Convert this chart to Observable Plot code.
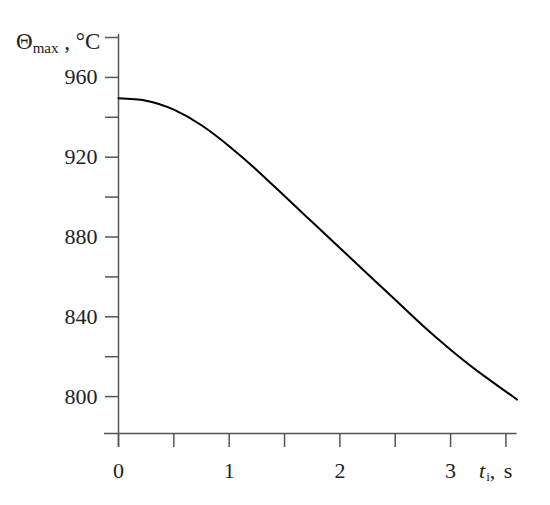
<!DOCTYPE html>
<html><head><meta charset="utf-8">
<script src="https://cdn.jsdelivr.net/npm/d3@7"></script>
<script src="https://cdn.jsdelivr.net/npm/@observablehq/plot@0.6"></script>
<style>body{margin:0;background:#fff}</style>
</head><body><div id="chart"></div>
<script>
const time = [0, 0.25, 0.5, 0.75, 1, 1.25, 1.5, 1.75, 2, 2.25, 2.5, 2.75, 3, 3.25, 3.5, 3.6];
const thetaMax = [948, 946.8, 942.3, 934.5, 924, 912, 899, 886, 873, 860, 847, 834, 822, 811, 801, 797];
const xTicks = [0, 0.5, 1, 1.5, 2, 2.5, 3, 3.5];
const xTickLabels = [0, 1, 2, 3];
const yTicks = [800, 820, 840, 860, 880, 900, 920, 940, 960, 980];
const yTickLabels = [800, 840, 880, 920, 960];

const data = time.map((t, i) => ({t, v: thetaMax[i]}));
const font = "'Liberation Serif', 'DejaVu Serif', serif";
const axisColor = "#555";

const plot = Plot.plot({
  width: 550, height: 505,
  marginLeft: 118, marginRight: 33.5, marginTop: 34, marginBottom: 72,
  x: {domain: [0, 3.6]},
  y: {domain: [780, 980]},
  style: {fontFamily: font, fontSize: "22px", color: "#222", background: "white"},
  marks: [
    Plot.ruleY([780], {stroke: axisColor, strokeWidth: 1.5, insetLeft: -14}),
    Plot.ruleX([0], {stroke: axisColor, strokeWidth: 1.5, insetBottom: -14}),
    Plot.axisX({ticks: xTicks, tickSize: 14, tickPadding: 15, stroke: axisColor, strokeWidth: 1.5, fontSize: 22,
      tickFormat: d => xTickLabels.includes(d) ? String(d) : "", label: null}),
    Plot.axisY({ticks: yTicks, tickSize: 13, tickPadding: 8, stroke: axisColor, strokeWidth: 1.5, dy: 3, fontSize: 22,
      tickFormat: d => yTickLabels.includes(d) ? String(d) : "", label: null}),
    Plot.line(data, {x: "t", y: "v", curve: "natural", stroke: "#000", strokeWidth: 2})
  ]
});
document.getElementById("chart").appendChild(plot);

const svg = d3.select(plot);
const yl = svg.append("text").attr("x", 16).attr("y", 49).attr("text-anchor", "start")
  .attr("font-family", font).attr("font-size", 23).attr("fill", "#222");
yl.append("tspan").text("Θ");
yl.append("tspan").attr("font-size", 15).attr("dy", 4).text("max");
yl.append("tspan").attr("dy", -4).text(" , °C");

const xl = svg.append("text").attr("x", 479).attr("y", 478).attr("text-anchor", "start")
  .attr("font-family", font).attr("font-size", 22).attr("fill", "#222");
xl.append("tspan").attr("font-style", "italic").text("t");
xl.append("tspan").attr("font-size", 13).attr("dx", 1).attr("dy", 3).text("i");
xl.append("tspan").attr("dy", -3).text(",");
xl.append("tspan").attr("dx", 3).text(" s");
</script>
</body></html>
